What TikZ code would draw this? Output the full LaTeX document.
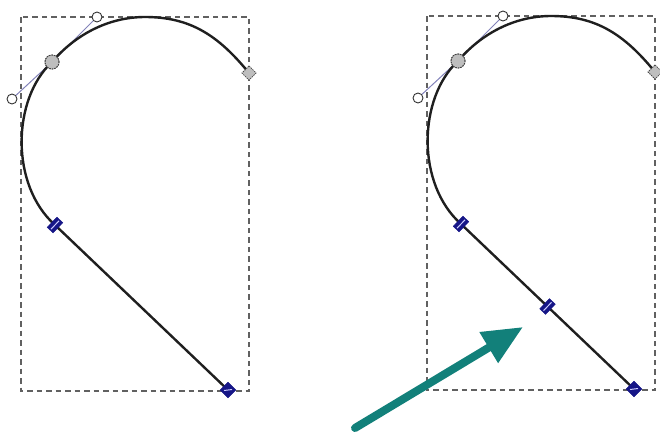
\documentclass[tikz,border=0pt]{standalone}
\usetikzlibrary{arrows.meta,calc}
\definecolor{tealc}{RGB}{18,128,122}
\definecolor{navyc}{RGB}{22,22,135}
\definecolor{handlec}{RGB}{130,130,185}
\definecolor{nodegray}{RGB}{190,190,190}
\tikzset{
  curve/.style={line width=2.4pt, draw=black!88},
  bbox/.style={draw=black!62, line width=1.1pt, dash pattern=on 5.5pt off 4pt},
  handle/.style={draw=handlec, line width=1pt},
  hcirc/.style={circle, draw=black!80, fill=white, line width=0.9pt, minimum size=10pt, inner sep=0pt},
  gnode/.style={circle, draw=black!75, fill=nodegray, line width=0.9pt, dash pattern=on 1.6pt off 0.9pt, minimum size=14pt, inner sep=0pt},
  gdiam/.style={rectangle, rotate=45, draw=black!70, fill=nodegray, line width=0.8pt, dash pattern=on 1.5pt off 0.9pt, minimum size=10pt, inner sep=0pt},
  bmark/.style={rectangle, rotate=-43.6, fill=navyc, draw=navyc, line width=0.5pt, minimum width=8pt, minimum height=14pt, inner sep=0pt},
  emark/.style={rectangle, rotate=45, fill=navyc, draw=navyc, line width=0.5pt, minimum size=11pt, inner sep=0pt},
  stripe/.style={draw=white!80!blue, line width=1pt},
  bigarrow/.style={draw=tealc, line width=8pt, line cap=round, -{Triangle[length=40pt,width=34pt]}},
  fig/.pic={
    \draw[bbox] (21,17) rectangle (249,391);
    \node[gnode] (-g) at (52,62) {};
    \node[hcirc] (-h1) at (97,17) {};
    \node[hcirc] (-h2) at (12,99) {};
    \coordinate (-d) at (249,73);
    \coordinate (-b) at (55,225);
    \coordinate (-e) at (228,390);
    \draw[handle] (-h1) -- (-g.center) -- (-h2);
    \draw[curve] (-d) .. controls (218,35) and (190,17) .. (145,17)
                      .. controls (108,17) and (75,35) .. (-g.center)
                      .. controls (12,99) and (10,185) .. (-b) -- (-e);
    \node[gnode] at (-g) {};
    \node[gdiam] (-dn) at (-d) {};
    \node[bmark] (-bn) at (-b) {};
    \draw[stripe] ($(-bn.north)!0.1!(-bn.south)$) -- ($(-bn.north)!0.9!(-bn.south)$);
    \node[emark] (-en) at (-e) {};
    \draw[stripe] ($(-e)+(-4,0.5)$) -- ($(-e)+(4,-0.5)$);
  }
}
\begin{document}
\begin{tikzpicture}[x=1pt,y=-1pt]
\useasboundingbox (0,0) rectangle (660,432);
\pic (L) at (0,0) {fig};
\pic (R) at (406,-1) {fig};
\coordinate (m) at ($(R-b)!0.5!(R-e)$);
\node[bmark] (Rm) at (m) {};
\draw[stripe] ($(Rm.north)!0.1!(Rm.south)$) -- ($(Rm.north)!0.9!(Rm.south)$);
\coordinate (at) at (355,428);
\coordinate (ah) at (523,327);
\draw[bigarrow] (at) -- (ah);
\end{tikzpicture}
\end{document}
